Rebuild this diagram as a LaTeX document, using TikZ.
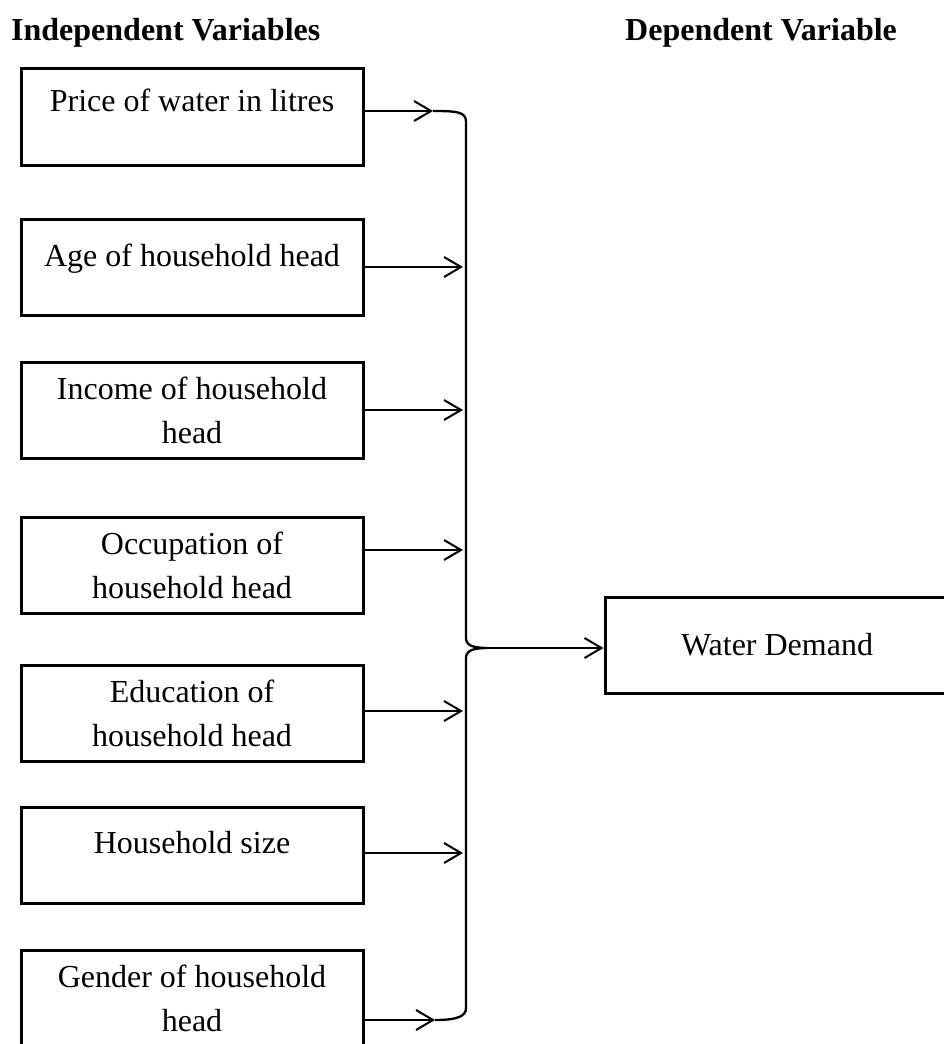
\documentclass[tikz,border=0pt]{standalone}
\usepackage{fontspec}
\setmainfont{Liberation Serif}
\usetikzlibrary{arrows.meta}

\begin{document}
\begin{tikzpicture}[x=1pt, y=-1pt, >={Straight Barb[length=17pt,width=20pt]},
  varbox/.style={draw, line width=3pt, minimum width=342pt, minimum height=96pt,
    align=center, inner sep=0pt, font=\fontsize{32}{44}\selectfont},
  heading/.style={anchor=base west, inner sep=0pt, font=\fontsize{32}{38}\selectfont\bfseries},
  link/.style={->, line width=2pt}]
  % page size
  \useasboundingbox (0,0) rectangle (944,1044);

  % column titles
  \node[heading] (indep) at (11,40) {Independent Variables};
  \node[heading] (dep) at (625,40) {Dependent Variable};

  % independent variables (left column)
  \node[varbox, minimum height=97pt] (price) at (192,116.5) {Price of water in litres\\[-12pt]\mbox{}};
  \node[varbox] (age) at (192,267) {Age of household head\\[-20pt]\mbox{}};
  \node[varbox] (income) at (192,410.5) {Income of household\\head};
  \node[varbox] (occup) at (192,565) {Occupation of\\household head};
  \node[varbox] (educ) at (192,713) {Education of\\household head};
  \node[varbox] (size) at (192,855) {Household size\\[-18pt]\mbox{}};
  \node[varbox] (gender) at (192,998) {Gender of household\\head};

  % dependent variable (runs off the right edge)
  \node[varbox, minimum width=344pt, font=\fontsize{32}{38}\selectfont] (demand) at (777,645) {Water Demand};

  % ends of the brace and of the arrows
  \coordinate (btop) at (433,111);
  \coordinate (bmid) at (488,648);
  \coordinate (bbot) at (435,1020);
  \coordinate (eage) at (463,267);
  \coordinate (eincome) at (463,410);
  \coordinate (eoccup) at (463,550);
  \coordinate (educ-end) at (463,711);
  \coordinate (esize) at (463,853);

  % arrows into the brace
  \draw[link] (price.east |- btop) -- (btop);
  \draw[link] (age.east |- eage) -- (eage);
  \draw[link] (income.east |- eincome) -- (eincome);
  \draw[link] (occup.east |- eoccup) -- (eoccup);
  \draw[link] (educ.east |- educ-end) -- (educ-end);
  \draw[link] (size.east |- esize) -- (esize);
  \draw[link] (gender.east |- bbot) -- (bbot);

  % the brace
  \draw[line width=2.3pt] (btop) .. controls (458,111) and (466,112) .. (466,122)
    -- (466,638) .. controls (466,645) and (472,648) .. (bmid)
    .. controls (472,648) and (466,651) .. (466,658)
    -- (466,1008) .. controls (466,1016) and (458,1020) .. (bbot);

  % brace to water demand
  \draw[link] (bmid) -- (demand.west |- bmid);
\end{tikzpicture}
\end{document}
